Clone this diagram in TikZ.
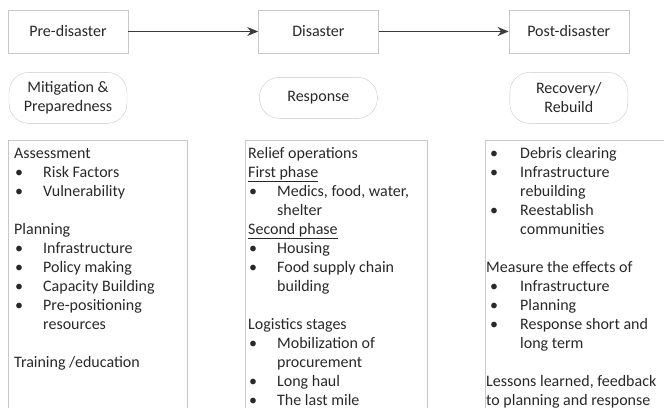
\documentclass[tikz,border=0pt]{standalone}
\usepackage{fontspec}
\setmainfont{Carlito}
\usetikzlibrary{arrows.meta,positioning}
\definecolor{framegray}{RGB}{200,200,200}
\definecolor{textgray}{RGB}{40,40,40}
\definecolor{arrowgray}{RGB}{60,60,60}
\newlength\bulind
\newlength\bulskip
\setlength\bulind{29pt}
\setlength\bulskip{1pt}
\newcommand{\bul}{\makebox[\bulind][l]{\hspace{\bulskip}\textbullet}}
\newcommand{\cont}{\hspace*{\bulind}}
\newcommand{\notelist}[2]{\parbox[t][300pt][t]{#1}{\raggedright #2}}
\begin{document}
\begin{tikzpicture}[
  node distance=19pt and 130pt,
  font=\fontsize{16}{19}\selectfont,
  phase/.style={rectangle,draw=framegray,fill=white,minimum width=120pt,minimum height=43pt,align=center,text=textgray},
  stage/.style={rectangle,rounded corners=20pt,draw=framegray,minimum width=118pt,align=center,text=textgray},
  notes/.style={rectangle,draw=framegray,anchor=north west,inner ysep=5pt,text=textgray},
  arrow/.style={-{Stealth[length=11pt,width=9pt]},line width=1.5pt,draw=arrowgray}]
  \path[use as bounding box,clip] (0,0) rectangle (664pt,-407pt);
  \node[phase] (pre) at (68pt,-31.5pt) {Pre-disaster};
  \node[phase,right=of pre] (dis) {Disaster};
  \node[phase,right=of dis] (post) {Post-disaster};
  \node[stage,minimum height=51pt,below=of pre] (mit) {Mitigation \&\\Preparedness};
  \node[stage,minimum height=41pt,below=24pt of dis] (resp) {Response};
  \node[stage,minimum height=51pt,below=of post] (rec) {Recovery/\\Rebuild};
  \node[notes,inner xsep=6pt] (prelist) at (8pt,-140pt) {\notelist{167pt}{%
    \strut Assessment\\
    \bul Risk Factors\\
    \bul Vulnerability\\[19pt]
    Planning\\
    \bul Infrastructure\\
    \bul Policy making\\
    \bul Capacity Building\\
    \bul Pre-positioning\\
    \cont resources\\[19pt]
    Training /education}};
  \node[notes,inner xsep=3pt] (displist) at (245pt,-140pt) {\notelist{176pt}{%
    \strut Relief operations\\
    \underline{First phase}\\
    \bul Medics, food, water,\\
    \cont shelter\\
    \underline{Second phase}\\
    \bul Housing\\
    \bul Food supply chain\\
    \cont building\\[19pt]
    Logistics stages\\
    \bul Mobilization of\\
    \cont procurement\\
    \bul Long haul\\
    \bul The last mile}};
  \node[notes,inner xsep=1pt,font={\fontsize{16}{19}\selectfont\setlength\bulind{34pt}\setlength\bulskip{4pt}}] (postlist) at (485pt,-140pt) {\notelist{200pt}{%
    \strut\bul Debris clearing\\
    \bul Infrastructure\\
    \cont rebuilding\\
    \bul Reestablish\\
    \cont communities\\[19pt]
    Measure the effects of\\
    \bul Infrastructure\\
    \bul Planning\\
    \bul Response short and\\
    \cont long term\\[19pt]
    Lessons learned, feedback\\
    to planning and response}};
  \draw[arrow] (pre) -- (dis);
  \draw[arrow] (dis) -- (post);
\end{tikzpicture}
\end{document}
